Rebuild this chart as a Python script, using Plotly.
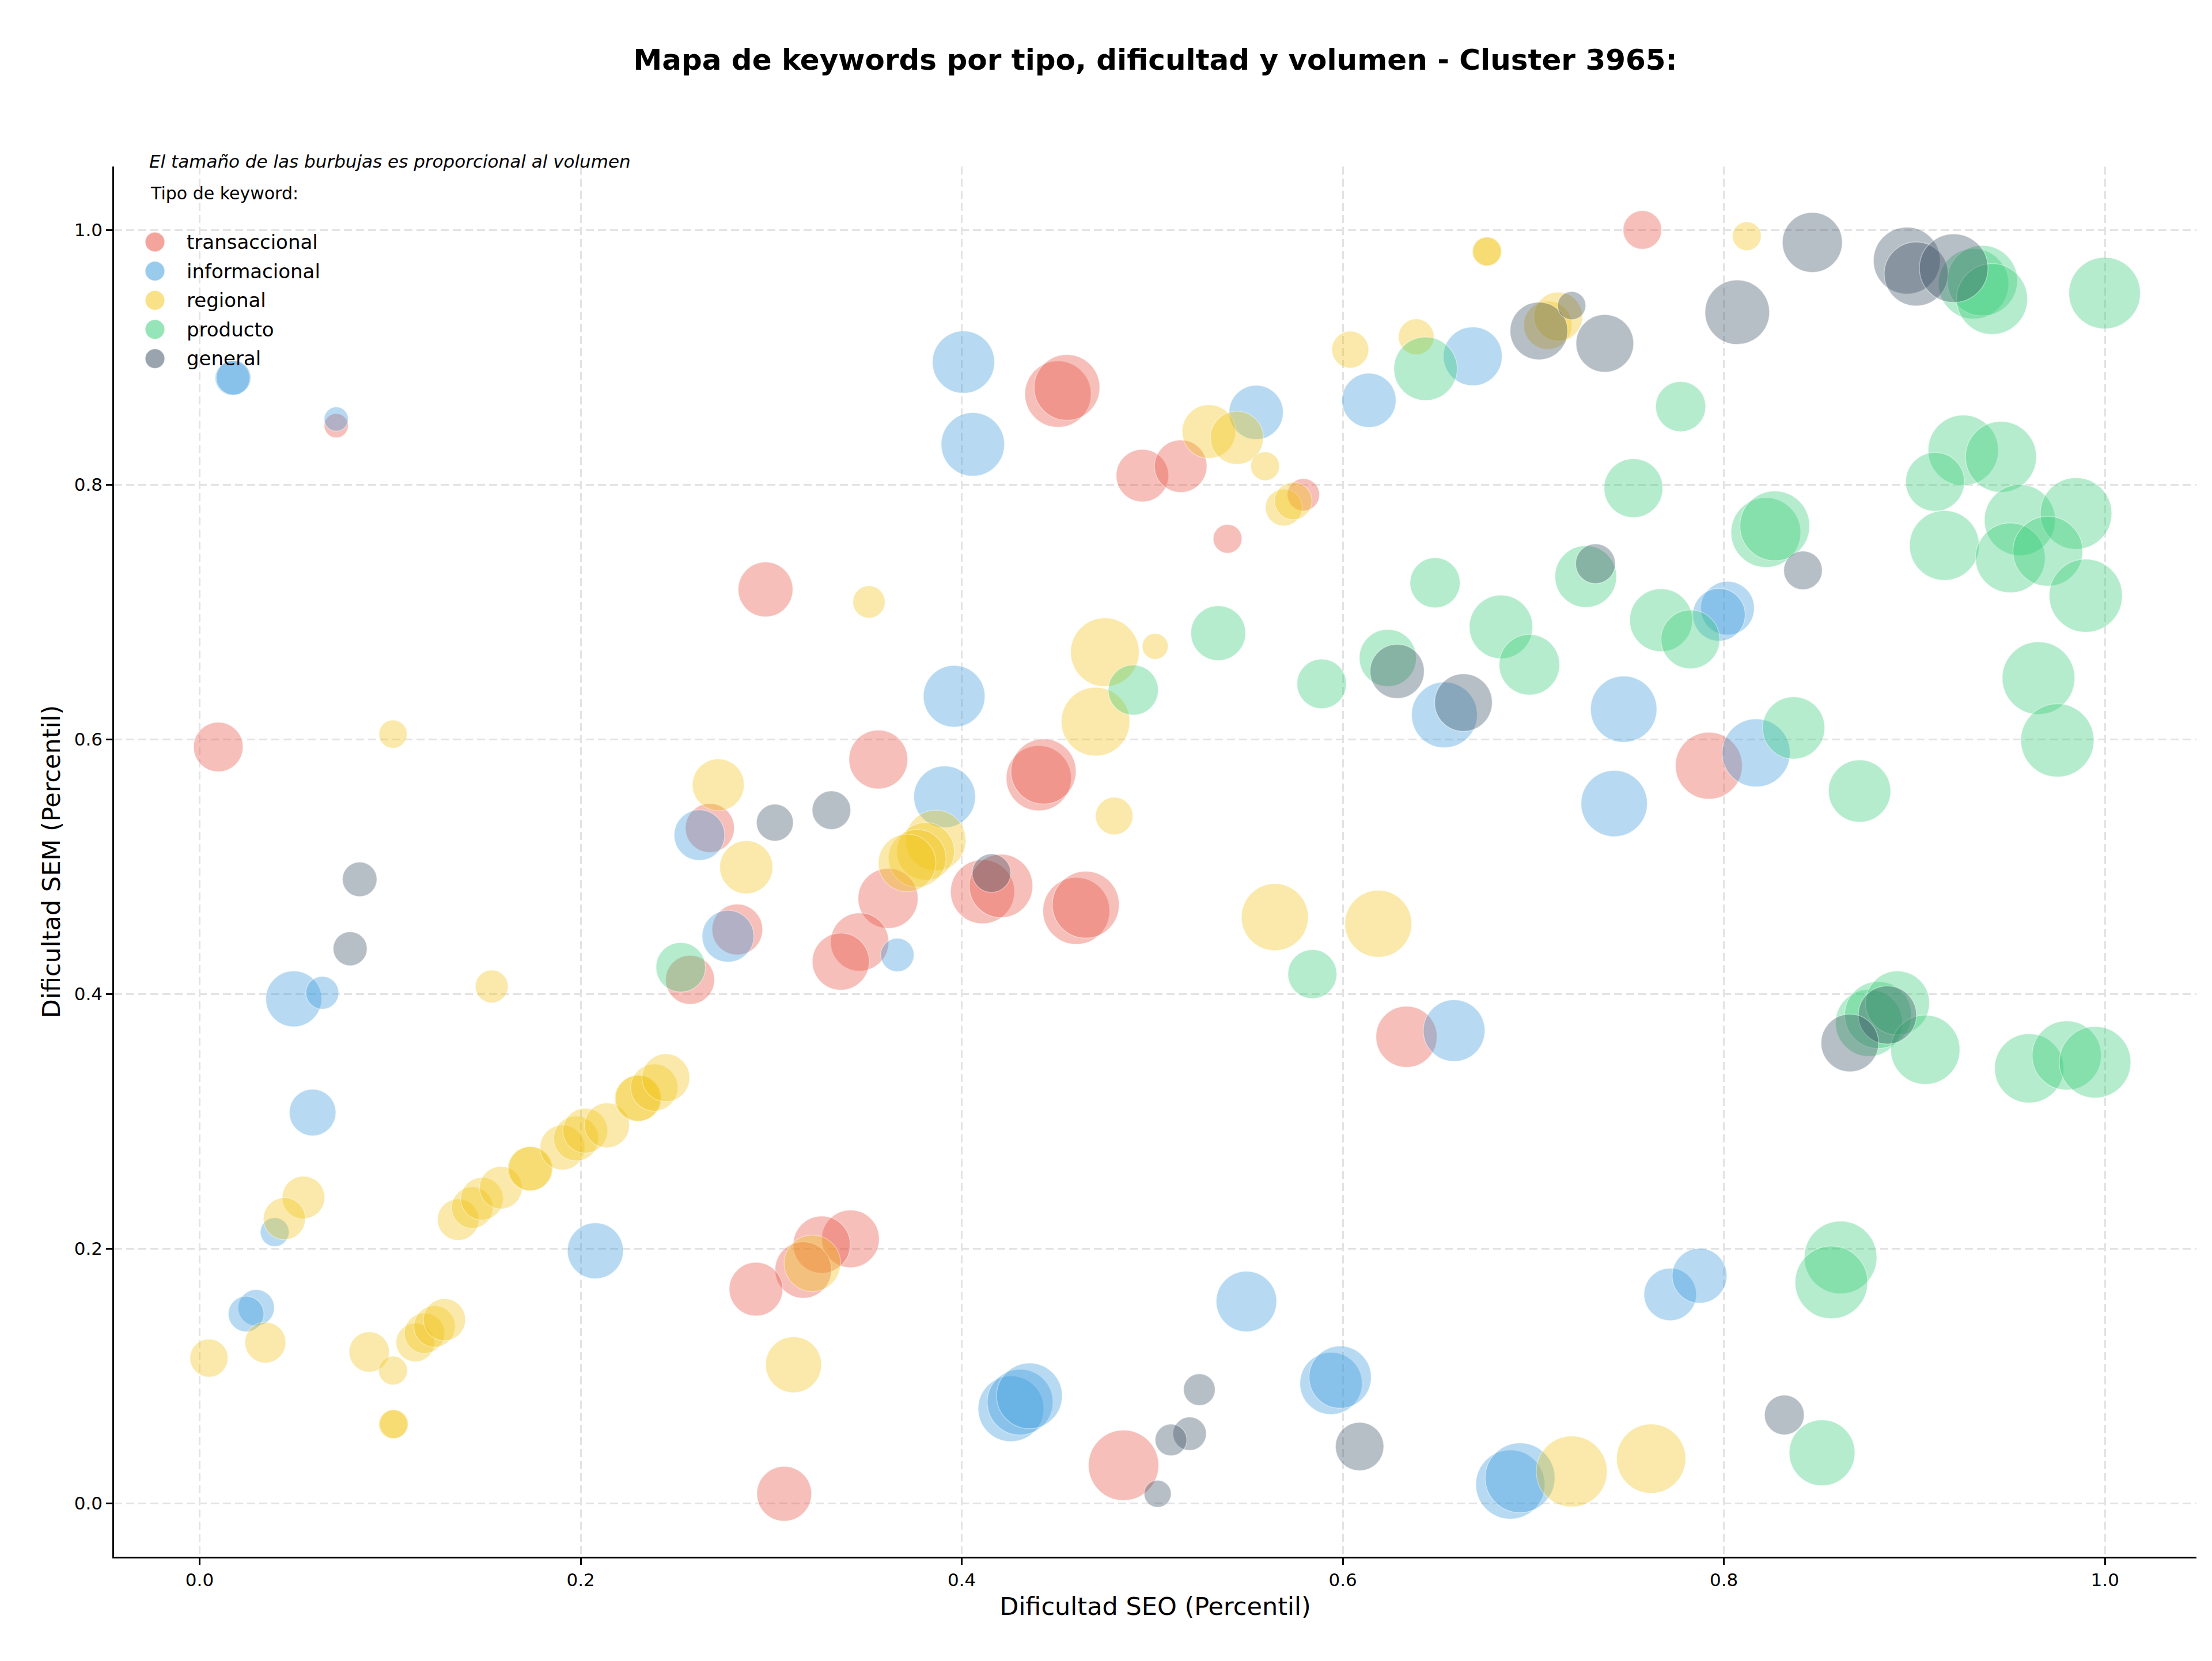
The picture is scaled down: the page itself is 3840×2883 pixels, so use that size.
import plotly.graph_objects as go

# ---------------- data ----------------
categorias = ["transaccional", "informacional", "regional", "producto", "general"]

seo_transaccional = [0.0098, 0.0717, 0.2970, 0.4505, 0.4552, 0.4948, 0.3562, 0.4404, 0.4429, 0.5149,
                     0.5793, 0.5395, 0.7572, 0.2678, 0.2822, 0.2574, 0.3613, 0.3464, 0.3365, 0.4109,
                     0.4206, 0.4601, 0.4651, 0.3416, 0.3265, 0.3168, 0.2920, 0.3068, 0.4849, 0.6334, 0.7921]
sem_transaccional = [0.5940, 0.8463, 0.7177, 0.8711, 0.8763, 0.8071, 0.5842, 0.5695, 0.5748, 0.8145,
                     0.7921, 0.7575, 1.0000, 0.5304, 0.4507, 0.4112, 0.4751, 0.4409, 0.4255, 0.4804,
                     0.4849, 0.4653, 0.4702, 0.2078, 0.2033, 0.1834, 0.1683, 0.0076, 0.0300, 0.3665, 0.5793]
vol_transaccional = [740, 176, 903, 1323, 1300, 828, 1040, 1277, 1277, 828,
                     314, 250, 449, 723, 774, 723, 1082, 1020, 980, 1232,
                     1210, 1346, 1346, 1000, 980, 960, 865, 903, 1488, 1124, 1346]

seo_informacional = [0.0172, 0.0178, 0.0717, 0.4009, 0.4058, 0.3960, 0.2623, 0.3910, 0.2773, 0.3662,
                     0.4258, 0.4306, 0.4355, 0.0494, 0.0644, 0.0593, 0.0394, 0.0297, 0.0244, 0.2077,
                     0.6682, 0.6137, 0.5545, 0.6533, 0.7474, 0.7424, 0.8019, 0.7974, 0.8169, 0.6584,
                     0.5494, 0.5938, 0.5986, 0.6879, 0.6930, 0.7718, 0.7872]
sem_informacional = [0.8837, 0.8840, 0.8515, 0.8962, 0.8316, 0.6338, 0.5248, 0.5549, 0.4454, 0.4307,
                     0.0744, 0.0796, 0.0845, 0.3962, 0.4010, 0.3070, 0.2131, 0.1537, 0.1488, 0.1984,
                     0.9008, 0.8662, 0.8567, 0.6192, 0.6237, 0.5496, 0.7030, 0.6978, 0.5894, 0.3713,
                     0.1586, 0.0943, 0.0992, 0.0149, 0.0202, 0.1642, 0.1788]
vol_informacional = [360, 360, 176, 1166, 1210, 1145, 774, 1145, 810, 336,
                     1300, 1300, 1300, 941, 325, 656, 250, 397, 384, 941,
                     1040, 884, 884, 1300, 1323, 1323, 865, 828, 1392, 1145,
                     1103, 1166, 1166, 1440, 1464, 828, 903]

seo_regional = [0.1015, 0.3513, 0.4751, 0.5015, 0.4702, 0.4800, 0.2722, 0.3863, 0.3810, 0.3766,
                0.3713, 0.2869, 0.3216, 0.3117, 0.1533, 0.0545, 0.0445, 0.0345, 0.0049, 0.0890,
                0.1015, 0.1015, 0.1020, 0.1132, 0.1180, 0.1233, 0.1285, 0.1357, 0.1431, 0.1482,
                0.1581, 0.1732, 0.1737, 0.1904, 0.1976, 0.2024, 0.2138, 0.2298, 0.2303, 0.2386,
                0.2447, 0.6754, 0.6758, 0.6039, 0.6385, 0.7076, 0.7130, 0.5297, 0.5444, 0.5592,
                0.5690, 0.5740, 0.8120, 0.5643, 0.6186, 0.7201, 0.7618]
sem_regional = [0.6041, 0.7079, 0.6684, 0.6730, 0.6139, 0.5398, 0.5643, 0.5206, 0.5120, 0.5066,
                0.5030, 0.4996, 0.1886, 0.1090, 0.4060, 0.2403, 0.2236, 0.1264, 0.1142, 0.1190,
                0.1044, 0.0621, 0.0624, 0.1264, 0.1337, 0.1390, 0.1443, 0.2229, 0.2323, 0.2393,
                0.2480, 0.2627, 0.2630, 0.2795, 0.2866, 0.2927, 0.2969, 0.3180, 0.3183, 0.3266,
                0.3343, 0.9829, 0.9832, 0.9060, 0.9161, 0.9252, 0.9319, 0.8417, 0.8368, 0.8145,
                0.7820, 0.7872, 0.9951, 0.4604, 0.4552, 0.0251, 0.0352]
vol_regional = [240, 314, 1416, 203, 1416, 423, 810, 1103, 1000, 1000,
                1000, 846, 960, 941, 325, 548, 533, 504, 436, 490,
                250, 250, 250, 449, 490, 518, 533, 518, 518, 548,
                548, 593, 593, 608, 608, 608, 608, 640, 640, 672,
                689, 250, 250, 410, 384, 706, 723, 865, 846, 250,
                410, 423, 250, 1346, 1346, 1513, 1440]

seo_producto = [0.2525, 0.4900, 0.6434, 0.5346, 0.5889, 0.6484, 0.6236, 0.6830, 0.6979, 0.7275,
                0.7525, 0.7670, 0.9310, 0.9356, 0.9407, 0.9998, 0.7773, 0.9256, 0.9454, 0.9108,
                0.9553, 0.9848, 0.9157, 0.9503, 0.9700, 0.9899, 0.9651, 0.9750, 0.8220, 0.8267,
                0.7824, 0.8366, 0.8712, 0.5840, 0.8761, 0.8809, 0.8911, 0.9057, 0.9602, 0.9799,
                0.9948, 0.8612, 0.8564, 0.8515]
sem_producto = [0.4210, 0.6387, 0.8910, 0.6834, 0.6436, 0.7229, 0.6639, 0.6883, 0.6586, 0.7278,
                0.7973, 0.6936, 0.9577, 0.9602, 0.9458, 0.9504, 0.8613, 0.8270, 0.8218, 0.8022,
                0.7722, 0.7774, 0.7523, 0.7425, 0.7477, 0.7128, 0.6481, 0.5992, 0.7624, 0.7676,
                0.6785, 0.6090, 0.5594, 0.4157, 0.3773, 0.3836, 0.3930, 0.3563, 0.3417, 0.3518,
                0.3465, 0.1932, 0.1736, 0.0398]
vol_producto = [740, 757, 1210, 903, 740, 757, 980, 1210, 1103, 1145,
                1040, 1188, 1488, 1488, 1513, 1538, 757, 1488, 1513, 1040,
                1513, 1538, 1464, 1464, 1464, 1613, 1588, 1613, 1464, 1464,
                1040, 1166, 1166, 723, 1346, 1346, 1232, 1440, 1440, 1440,
                1538, 1588, 1588, 1300]

seo_general = [0.0840, 0.0790, 0.3316, 0.3019, 0.4156, 0.6285, 0.6633, 0.7326, 0.7029, 0.7201,
               0.7375, 0.8464, 0.8070, 0.8960, 0.9009, 0.9206, 0.8415, 0.8858, 0.8661, 0.5247,
               0.5196, 0.5098, 0.5028, 0.6088, 0.8317]
sem_general = [0.4901, 0.4356, 0.5444, 0.5346, 0.4950, 0.6534, 0.6289, 0.7379, 0.9207, 0.9406,
               0.9109, 0.9902, 0.9354, 0.9759, 0.9654, 0.9700, 0.7327, 0.3836, 0.3616, 0.0894,
               0.0548, 0.0499, 0.0076, 0.0447, 0.0695]
vol_general = [360, 348, 449, 410, 449, 884, 1000, 476, 1000, 240,
               1000, 1082, 1254, 1346, 1232, 1416, 449, 1020, 1000, 303,
               336, 303, 221, 706, 476]

x_ticks = [0.0, 0.2, 0.4, 0.6, 0.8, 1.0]
y_ticks = [0.0, 0.2, 0.4, 0.6, 0.8, 1.0]

# ---------------- styling ----------------
FONT = "DejaVu Sans"
colores = {
    "transaccional": "231,76,60",
    "informacional": "52,152,219",
    "regional": "241,196,15",
    "producto": "46,204,113",
    "general": "52,73,94",
}
series = [
    ("transaccional", seo_transaccional, sem_transaccional, vol_transaccional),
    ("informacional", seo_informacional, sem_informacional, vol_informacional),
    ("regional", seo_regional, sem_regional, vol_regional),
    ("producto", seo_producto, sem_producto, vol_producto),
    ("general", seo_general, sem_general, vol_general),
]

W, H = 3840, 2883
L, R, T, B = 198, 27, 289, 181
PW, PH = W - L - R, H - T - B

fig = go.Figure()
for name, xs, ys, vs in series:
    fig.add_trace(go.Scatter(
        x=xs, y=ys, mode="markers", name=name, showlegend=False,
        marker=dict(size=vs, sizemode="area", sizeref=0.2,
                    color="rgba(%s,0.5)" % colores[name],
                    line=dict(color="rgba(255,255,255,0.55)", width=1.5)),
    ))

def px2paper_x(px):
    return (px - L) / PW

def px2paper_y(py):
    return (H - B - py) / PH

annotations = [
    dict(text="<i>El tamaño de las burbujas es proporcional al volumen</i>",
         xref="paper", yref="paper", x=px2paper_x(257), y=px2paper_y(280),
         xanchor="left", yanchor="middle", showarrow=False,
         font=dict(family=FONT, size=31, color="black")),
    dict(text="Tipo de keyword:",
         xref="paper", yref="paper", x=px2paper_x(259), y=px2paper_y(335),
         xanchor="left", yanchor="middle", showarrow=False,
         font=dict(family=FONT, size=30, color="black")),
]
shapes = []
for i, name in enumerate(categorias):
    yc = px2paper_y(420 + i * 50.6)
    shapes.append(dict(type="circle", xref="paper", yref="paper",
                       xsizemode="pixel", ysizemode="pixel",
                       xanchor=px2paper_x(269), yanchor=yc,
                       x0=-17, x1=17, y0=-17, y1=17,
                       fillcolor="rgba(%s,0.5)" % colores[name],
                       line=dict(color="rgba(255,255,255,0.55)", width=1.5)))
    annotations.append(dict(text=name, xref="paper", yref="paper",
                            x=px2paper_x(322), y=yc, xanchor="left", yanchor="middle",
                            showarrow=False, font=dict(family=FONT, size=34, color="black")))

axis_common = dict(
    showline=True, linecolor="black", linewidth=2.5, mirror=False,
    ticks="outside", ticklen=11, tickwidth=2.5, tickcolor="black",
    showgrid=True, gridcolor="#e3e3e3", gridwidth=2.5, griddash="14px,7px",
    zeroline=False, tickformat=".1f",
    tickfont=dict(family=FONT, size=31, color="black"),
)

fig.update_layout(
    width=W, height=H, autosize=False,
    margin=dict(l=L, r=R, t=T, b=B, pad=0),
    paper_bgcolor="white", plot_bgcolor="white",
    font=dict(family=FONT, color="black"),
    title=dict(text="<b>Mapa de keywords por tipo, dificultad y volumen - Cluster 3965:</b>",
               xref="paper", x=0.5, xanchor="center",
               yref="container", y=1 - 103 / H, yanchor="middle",
               font=dict(family=FONT, size=50, color="black")),
    xaxis=dict(range=[-0.0449, 1.048], tickvals=x_ticks,
               title=dict(text="Dificultad SEO (Percentil)", standoff=14,
                          font=dict(family=FONT, size=43, color="black")),
               **axis_common),
    yaxis=dict(range=[-0.0418, 1.0498], tickvals=y_ticks,
               title=dict(text="Dificultad SEM (Percentil)", standoff=11,
                          font=dict(family=FONT, size=43, color="black")),
               **axis_common),
    annotations=annotations,
    shapes=shapes,
)

fig.write_html("out.html")
